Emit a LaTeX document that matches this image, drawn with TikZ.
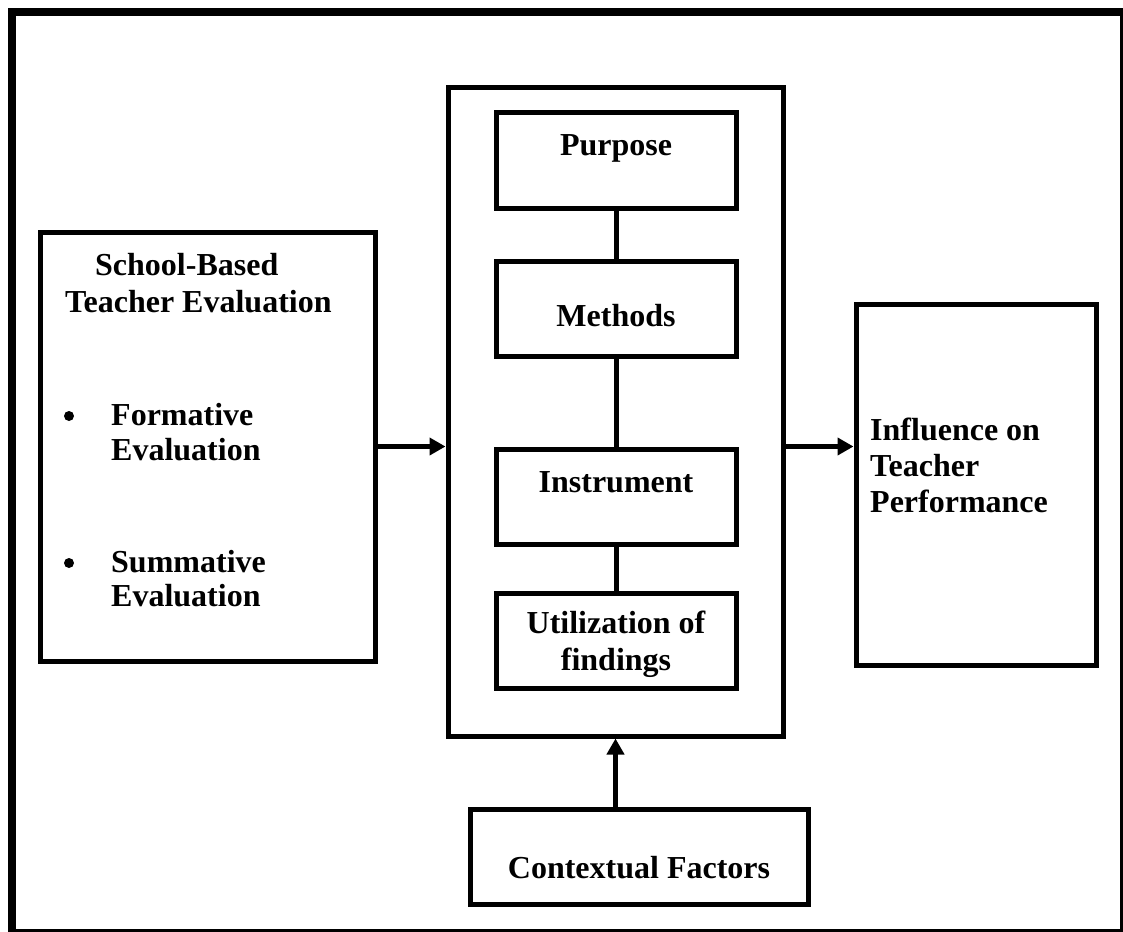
\documentclass[tikz,border=0pt]{standalone}
\usepackage{fontspec}
\setmainfont{Liberation Serif}
\usetikzlibrary{arrows.meta}
\begin{document}
\begin{tikzpicture}[x=1pt,y=-1pt,
  box/.style={draw,line width=5pt,rectangle,inner sep=0pt},
  txt/.style={inner sep=0pt,font=\fontsize{32}{36}\selectfont\bfseries},
  dot/.style={circle,fill,inner sep=0pt,minimum size=10pt},
  link/.style={line width=5pt},
  arr/.style={line width=5pt,-{Triangle[length=16pt,width=17pt]}}]
\useasboundingbox (0,0) rectangle (1123,931);
\draw[line width=8pt] (12,12) rectangle (1124,933);
% boxes
\node[box,minimum width=335.5pt,minimum height=429.5pt] (left) at (207.75,447) {};
\node[box,minimum width=335pt,minimum height=648pt] (big) at (615.5,412) {};
\node[box,minimum width=240pt,minimum height=95pt] (purpose) at (616,160.5) {};
\node[box,minimum width=240pt,minimum height=95pt] (methods) at (616,308.5) {};
\node[box,minimum width=240pt,minimum height=95pt] (instr) at (616,496.5) {};
\node[box,minimum width=240pt,minimum height=95pt] (util) at (616,640.5) {};
\node[box,minimum width=240pt,minimum height=360.5pt] (right) at (976,484.75) {};
\node[box,minimum width=338pt,minimum height=95.5pt] (ctx) at (639,856.75) {};
% texts
\node[txt,anchor=base] (tpurpose) at (616,155) {Purpose};
\node[txt,anchor=base] (tmethods) at (616,326) {Methods};
\node[txt,anchor=base] (tinstr) at (616,492) {Instrument};
\node[txt,anchor=base] (tutil1) at (616,633) {Utilization of};
\node[txt,anchor=base] (tutil2) at (616,670) {findings};
\node[txt,anchor=base] (tctx) at (639,878) {Contextual Factors};
\node[txt,anchor=base west] (tsb1) at (95,275) {School-Based};
\node[txt,anchor=base west] (tsb2) at (65,312) {Teacher Evaluation};
\node[dot] (b1) at (69,416) {};
\node[txt,anchor=base west] (tf1) at (111,425) {Formative};
\node[txt,anchor=base west] (tf2) at (111,460) {Evaluation};
\node[dot] (b2) at (69,563) {};
\node[txt,anchor=base west] (ts1) at (111,572) {Summative};
\node[txt,anchor=base west] (ts2) at (111,606) {Evaluation};
\node[txt,anchor=base west] (ti1) at (870,440) {Influence on};
\node[txt,anchor=base west] (ti2) at (870,476) {Teacher};
\node[txt,anchor=base west] (ti3) at (870,512) {Performance};
% connectors
\draw[link] (purpose.south) -- (methods.north);
\draw[link] (methods.south) -- (instr.north);
\draw[link] (instr.south) -- (util.north);
\draw[arr] (left.east |- instr.north) -- (big.west |- instr.north);
\draw[arr] (big.east |- instr.north) -- (right.west |- instr.north);
\draw[arr] (ctx.north -| big.south) -- (big.south);
\end{tikzpicture}
\end{document}
